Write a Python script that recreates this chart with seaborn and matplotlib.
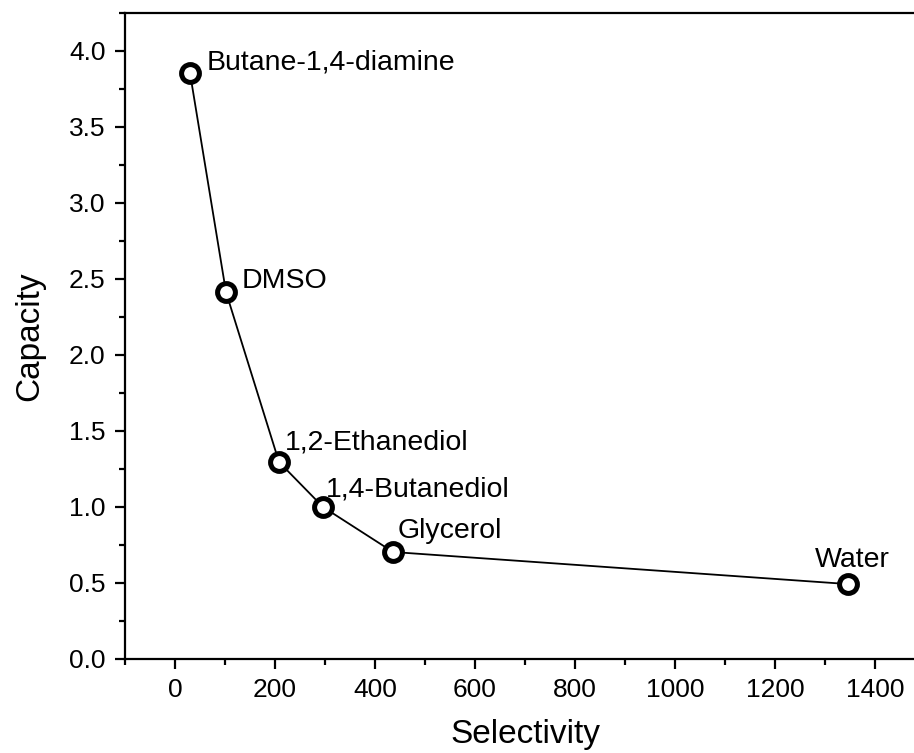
import pandas as pd
import seaborn as sns
import matplotlib
matplotlib.use('Agg')
import matplotlib.pyplot as plt
from matplotlib.ticker import MultipleLocator

sns.set_theme(style="ticks")
plt.rcParams['font.family'] = ['Liberation Sans', 'DejaVu Sans']
plt.rcParams['text.color'] = 'black'
plt.rcParams['axes.labelcolor'] = 'black'
plt.rcParams['xtick.color'] = 'black'
plt.rcParams['ytick.color'] = 'black'

solvents = ['Butane-1,4-diamine', 'DMSO', '1,2-Ethanediol', '1,4-Butanediol', 'Glycerol', 'Water']
selectivity = [30, 102, 208, 296, 436, 1346]
capacity = [3.855, 2.414, 1.296, 1.00, 0.704, 0.493]
# label offsets in points (dx, dy)
offsets = [(12, 7.5), (11.5, 8), (4, 14), (2, 12.5), (3, 15), (-24, 17)]

df = pd.DataFrame({'solvent': solvents, 'Selectivity': selectivity, 'Capacity': capacity})

fig = plt.figure(figsize=(9.14, 7.53), dpi=100)
ax = fig.add_axes([125 / 914, 94 / 753, 800 / 914, 646 / 753])

sns.lineplot(data=df, x='Selectivity', y='Capacity', ax=ax, color='black',
             linewidth=1.3, sort=False, zorder=2)
sns.scatterplot(data=df, x='Selectivity', y='Capacity', ax=ax, s=165,
                facecolor='white', edgecolor='black', linewidth=3.6, zorder=3)

for _, row in df.iterrows():
    dx, dy = offsets[solvents.index(row['solvent'])]
    ax.annotate(row['solvent'], (row['Selectivity'], row['Capacity']),
                xytext=(dx, dy), textcoords='offset points',
                fontsize=20.5, ha='left', va='center')

ax.set_xticks(range(0, 1401, 200))
ax.xaxis.set_minor_locator(MultipleLocator(100))
ax.yaxis.set_major_locator(MultipleLocator(0.5))
ax.yaxis.set_minor_locator(MultipleLocator(0.25))
ax.set_xlim(-100, 1500)
ax.set_ylim(0, 4.25)

ax.tick_params(which='major', direction='out', length=7, width=1.6, labelsize=19, pad=7)
ax.tick_params(which='minor', direction='out', length=4, width=1.6)
for sp in ax.spines.values():
    sp.set_linewidth(1.6)
    sp.set_color('black')

ax.set_xlabel('Selectivity', fontsize=24, labelpad=12)
ax.set_ylabel('Capacity', fontsize=24, labelpad=17)

fig.savefig('out.png', dpi=100)
